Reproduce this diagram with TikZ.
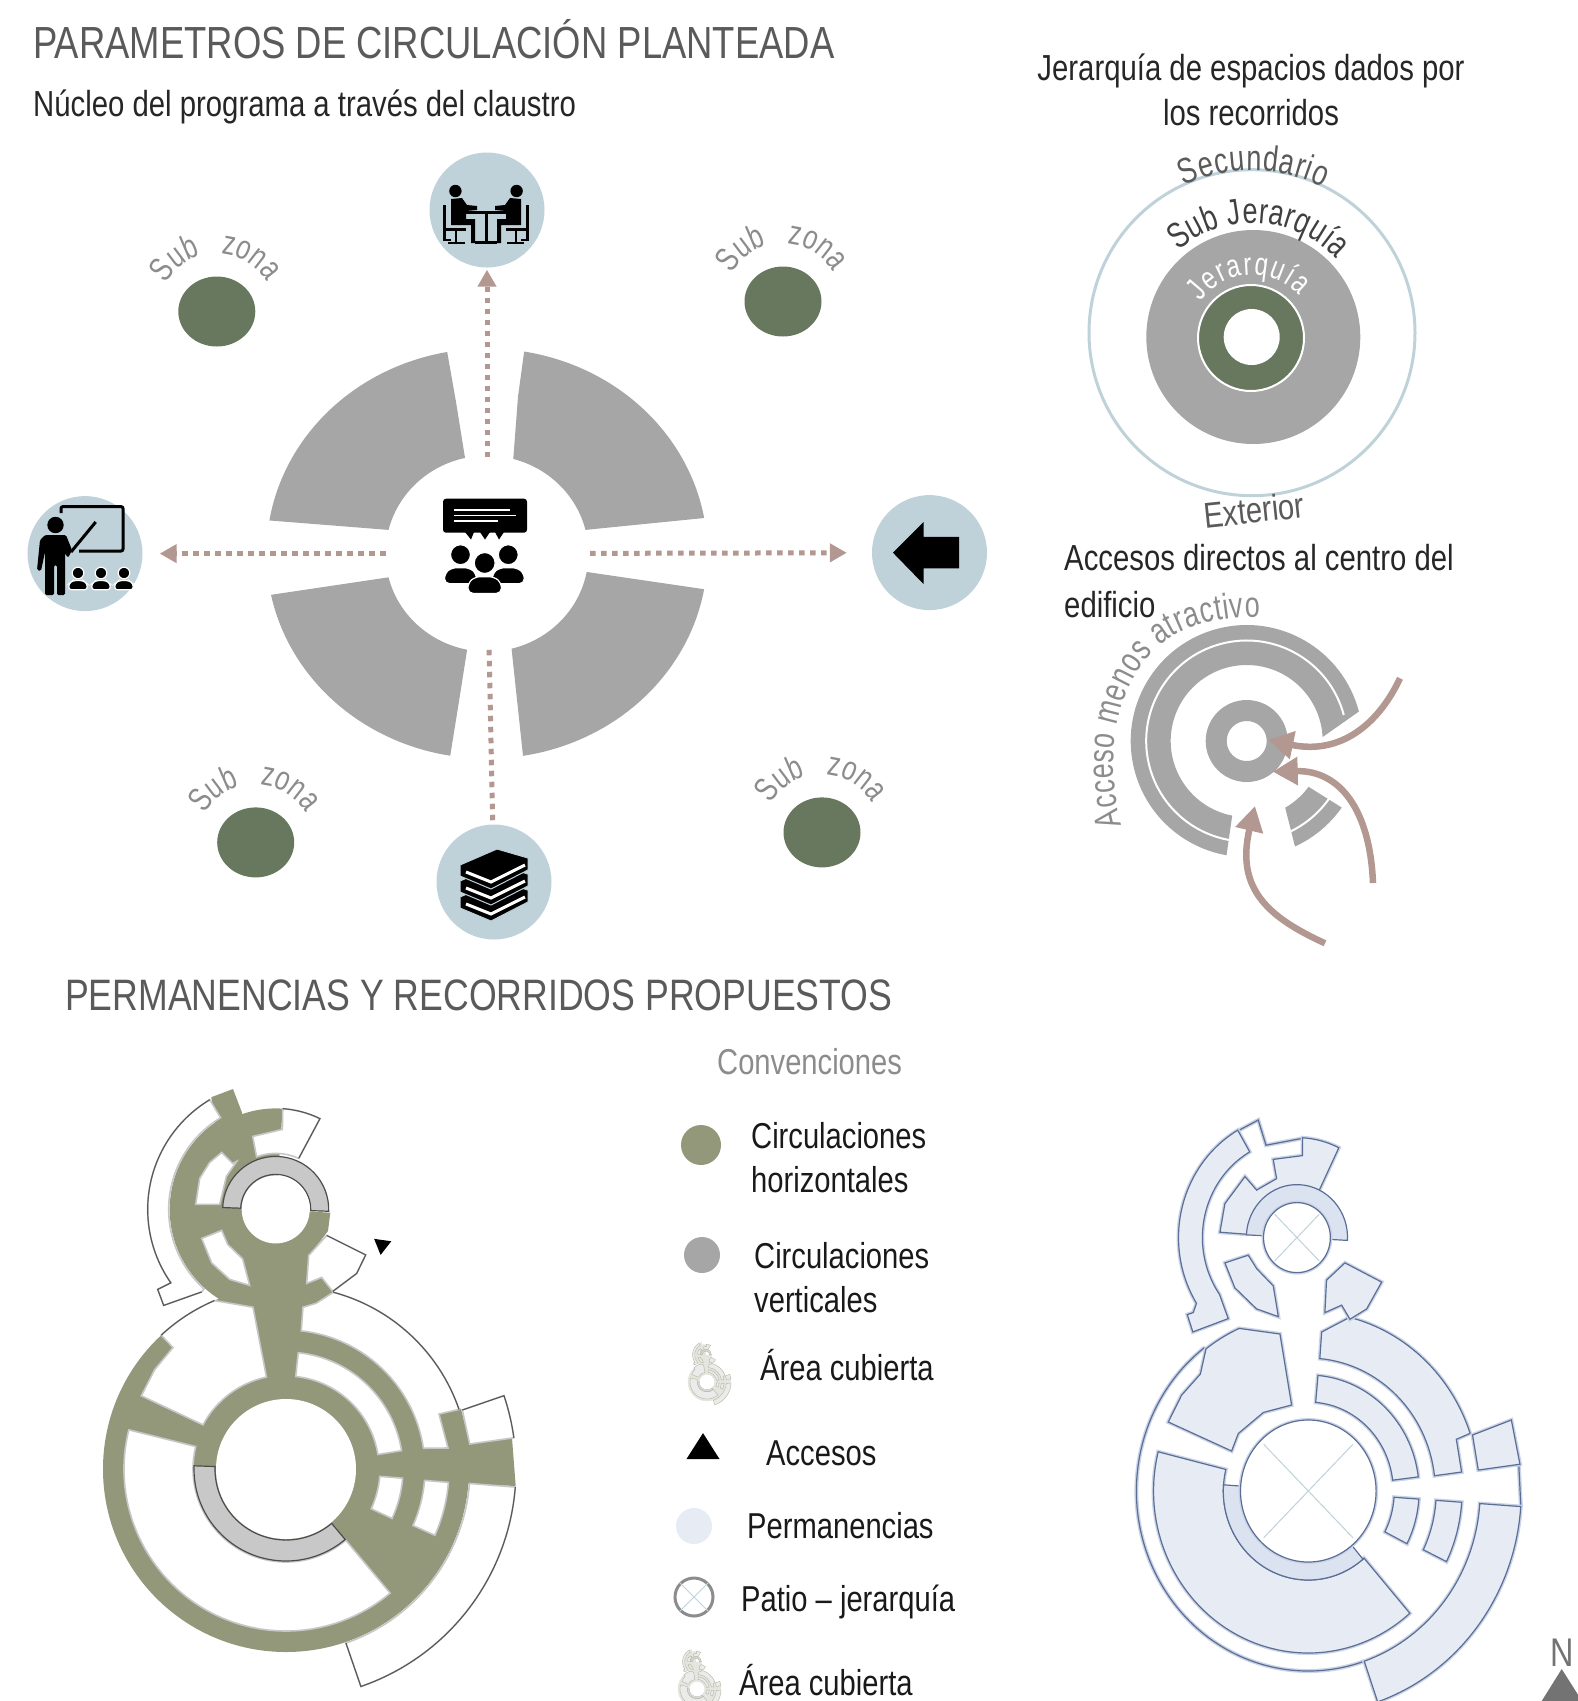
\documentclass[tikz,border=0pt]{standalone}
\usepackage{fontspec}
\setmainfont[FakeStretch=0.81]{Liberation Sans}
\newfontfamily\narrowFont[FakeStretch=0.75]{Liberation Sans}
\usepackage{xcolor}
\usetikzlibrary{shapes.geometric}
\usetikzlibrary{arrows.meta}
\usetikzlibrary{decorations.text}
\definecolor{titleGray}{HTML}{5A5A5A}
\definecolor{softGray}{HTML}{8C8C8C}
\definecolor{ringGray}{HTML}{A6A6A6}
\definecolor{zoneGreen}{HTML}{68785F}
\definecolor{iconBlue}{HTML}{BFD2DA}
\definecolor{roseLine}{HTML}{B39791}
\definecolor{olivePlan}{HTML}{93987A}
\definecolor{stairGray}{HTML}{C8C8C8}
\definecolor{roomBlue}{HTML}{E6EBF4}
\definecolor{stairBlue}{HTML}{DCE3F0}
\definecolor{wallBlue}{HTML}{5A6E96}
\definecolor{haloBlue}{HTML}{CBD4E6}
\tikzstyle{titleText} = [anchor=base west, inner sep=0pt, text=titleGray, font=\fontsize{45}{45}\selectfont]
\tikzstyle{leadText} = [anchor=base west, inner sep=0pt, text=black!85, font=\fontsize{36.2}{45}\selectfont]
\tikzstyle{legendText} = [anchor=base west, inner sep=0pt, text=black!90, font=\fontsize{36}{44}\selectfont, align=left]
\tikzstyle{iconNode} = [circle, minimum size=115pt, inner sep=0pt, fill=iconBlue]
\tikzstyle{zoneNode} = [ellipse, minimum width=77pt, minimum height=70pt, inner sep=0pt, fill=zoneGreen]
\tikzstyle{legendDot} = [circle, minimum size=36pt, inner sep=0pt]
\tikzstyle{flowLine} = [roseLine, line width=5pt, dash pattern=on 5.5pt off 5.5pt, >={Triangle[length=17pt,width=18pt]}]
\tikzstyle{entryLine} = [roseLine, line width=6.5pt, ->, >={Triangle[length=25pt,width=27pt]}]
\tikzstyle{leftRoom} = [draw=black!22, fill=white, line width=1.6pt]
\tikzstyle{leftStair} = [draw=black!70, fill=stairGray, line width=1.2pt]
\tikzstyle{rightRoom} = [draw=wallBlue, fill=roomBlue, line width=1.2pt, preaction={draw=haloBlue, line width=4pt}]
\tikzstyle{rightStair} = [draw=wallBlue, fill=stairBlue, line width=1.2pt]
\tikzstyle{rightWall} = [draw=wallBlue, line width=1.2pt, preaction={draw=haloBlue, line width=4pt}]
\tikzstyle{miniRoom} = [draw=olivePlan!70, fill=black!8, line width=.4pt]
\tikzstyle{miniStair} = [draw=olivePlan!70, fill=black!15, line width=.4pt]
\newcommand{\curveFont}[2]{\narrowFont\fontsize{#1}{#1}\selectfont\color{#2}}
\newcommand{\ringArc}[3]{arc [start angle=#2, end angle=#3, radius=#1pt]}
\newcommand{\ringPiece}[4]{(#3:#2) \ringArc{#2}{#3}{#4} -- (#4:#1) \ringArc{#1}{#4}{#3} -- cycle}
\newcommand{\bust}[3]{
    \filldraw [black, draw=white, line width=1.2pt] (#1,#2) circle [radius=#3pt];
    \filldraw [black, draw=white, line width=1.2pt, rounded corners=#3*.5pt] ({#1-1.6*#3},{#2-2.9*#3}) -- ({#1-1.6*#3},{#2-1.9*#3}) -- ({#1-.9*#3},{#2-1.3*#3}) -- ({#1+.9*#3},{#2-1.3*#3}) -- ({#1+1.6*#3},{#2-1.9*#3}) -- ({#1+1.6*#3},{#2-2.9*#3}) -- cycle;
}
\newcommand{\planBody}[1]{
    \fill [#1] (0,0) circle [radius=183pt];
    \fill [#1] (153,55) -- (175,60.4) -- (183.7,25) -- (226,31) -- (229.7,-17) -- (185,-15) -- (120,-15) -- (120,20) -- cycle;
    \fill [#1] (-74.7,371.8) -- (-53,380) -- (-43.7,355.7) -- (-50,340) -- (-70,340) -- cycle;
    \fill [#1] (-10.3,259.6) -- (44.3,256.3) -- (42,238) -- (23.7,214) -- (20.3,186) -- (35.3,192) -- (47,178) -- (30.3,165.8) -- (17,157.7) -- (10,137.6) -- (-30,137.6) -- cycle;
    \begin{scope}[shift={(-10.3,259.6)}]
        \fill [#1] (0,0) -- (86:101) \ringArc{101}{86}{121} -- (121:106) \ringArc{106}{121}{262} -- cycle;
    \end{scope}
}
\newcommand{\planRooms}[2]{
    \draw [#1] (133:183) \ringArc{183}{133}{113} -- (-33,161.8) -- (102:94) \ringArc{94}{102}{152} -- (-144.7,73.2) -- (-131.3,99.4) -- (-113,121.5) -- cycle;
    \draw [#1] (83.7:139) \ringArc{139}{83.7}{8.6} -- (162,21) -- (153,55) -- (19:183) \ringArc{183}{19}{75} -- (30.3,165.8) -- (17,161.8) -- cycle;
    \draw [#1] (176.3,59) -- (18.6:230) \ringArc{230}{18.6}{7.8} -- (183.7,25) -- cycle;
    \draw [#1] \ringPiece{93}{117}{84}{9};
    \draw [#1] \ringPiece{94}{117}{-4.5}{-25};
    \draw [#1] \ringPiece{139}{163}{-4.7}{-24};
    \draw [#1] \ringPiece{184}{230}{-4.5}{-71};
    \draw [#1] \ringPiece{93}{162}{166}{310};
    \draw [#2] \ringPiece{71}{92}{178}{310};
    \begin{scope}[shift={(-10.3,259.6)}]
        \draw [#1] (121:128) \ringArc{128}{121}{215} -- (-118,-80) -- (-112,-96) -- (-74,-82.5) -- (228:107) \ringArc{107}{228}{121} -- cycle;
        \draw [#1] (86:101) \ringArc{101}{86}{64} -- (65.7:56) \ringArc{56}{65.7}{110} -- (-23,73) -- (6.7,80) -- cycle;
        \draw [#1] (-54,57) -- (-43,46) -- (-39,48) -- (-49.3,33) -- (-56,5) -- (-80,5) -- (-76,31) -- (-66,47) -- cycle;
        \draw [#1] (-74,-29) -- (-54,-21) -- (-48,-35) -- (-33,-49.5) -- (-26,-76) -- (-46,-70) -- (-64,-53.5) -- cycle;
        \draw [#1] (51,-26) -- (90,-45.5) -- (81,-64) -- (57,-82) -- (46,-68) -- (31,-74) -- (33,-46) -- cycle;
        \draw [#2] \ringPiece{35}{53}{-2}{178};
    \end{scope}
}

\begin{document}
\begin{tikzpicture}[x=1pt, y=1pt]
    \useasboundingbox (0,0) rectangle (1578,-1701);
    \clip (0,0) rectangle (1578,-1701);

    \node (mainTitle) [titleText] at (33,-58) {PARAMETROS DE CIRCULACIÓN PLANTEADA};
    \node (mainLead) [leadText] at (33,-116) {Núcleo del programa a través del claustro};
    \node (hierarchyLead) [leadText, anchor=center, align=center] at (1251,-90) {Jerarquía de espacios dados por\\los recorridos};
    \node (accessLead) [leadText, anchor=west, align=left, font=\fontsize{36.2}{46.5}\selectfont] at (1064,-581) {Accesos directos al centro del\\edificio};
    \node (planTitle) [titleText, font=\fontsize{44}{44}\selectfont] at (65,-1010) {PERMANENCIAS Y RECORRIDOS PROPUESTOS};

    % claustro
    \begin{scope}[shift={(487,-553.6)}]
        \fill [ringGray] ({220.5*cos(100.4)},{205*sin(100.4)}) arc [start angle=100.4, end angle=170.7, x radius=220.5pt, y radius=205pt] -- ({101.5*cos(166)},{98*sin(166)}) arc [start angle=166, end angle=102.5, x radius=101.5pt, y radius=98pt] -- (-31,151.7) -- cycle;
        \fill [ringGray] ({220.5*cos(80.3)},{205*sin(80.3)}) arc [start angle=80.3, end angle=10, x radius=220.5pt, y radius=205pt] -- ({101.5*cos(14)},{98*sin(14)}) arc [start angle=14, end angle=75, x radius=101.5pt, y radius=98pt] -- (31,156.9) -- cycle;
        \fill [ringGray] ({220.5*cos(191.6)},{205*sin(191.6)}) arc [start angle=191.6, end angle=260.4, x radius=220.5pt, y radius=205pt] -- (-27.8,-146.4) -- ({101.5*cos(258.7)},{98*sin(258.7)}) arc [start angle=258.7, end angle=194, x radius=101.5pt, y radius=98pt] -- cycle;
        \fill [ringGray] ({220.5*cos(-10)},{205*sin(-10)}) arc [start angle=-10, end angle=-80.6, x radius=220.5pt, y radius=205pt] -- ({101.5*cos(-76)},{98*sin(-76)}) arc [start angle=-76, end angle=-10.8, x radius=101.5pt, y radius=98pt] -- cycle;
    \end{scope}

    \node (core) [circle, minimum size=192pt, inner sep=0pt] at (487,-553.6) {};
    \node (meetNode) [iconNode] at (487,-210) {};
    \node (classNode) [iconNode] at (85,-553.6) {};
    \node (doorNode) [iconNode] at (929.5,-552.6) {};
    \node (bookNode) [iconNode] at (494,-882) {};

    \draw [flowLine, ->, shorten >=2pt] (core) -- (meetNode);
    \draw [flowLine, ->, shorten >=17pt, shorten <=5pt] (core) -- (classNode);
    \draw [flowLine, ->, shorten >=25pt, shorten <=7pt] (core) -- (doorNode);
    \draw [flowLine] (core) -- (bookNode);

    \foreach \zoneName/\zoneX/\zoneY in {A/216.8/311.5, B/783/301.5, C/255.7/842.4, D/822/832.4} {
        \node (zone\zoneName) [zoneNode] at (\zoneX,-\zoneY) {};
        \path [shift={(\zoneX,-\zoneY)}, decorate, decoration={text along path, text align=fit to path stretching spaces, text={|\curveFont{34}{softGray}|Sub zona}}] (151:58) \ringArc{58}{151}{31};
    }

    % iconos
    \fill [black, rounded corners=3pt] (443,-498.7) rectangle (527,-532.7);
    \fill [black] (465,-532) -- (474,-532) -- (471,-539.5) -- cycle (480,-532) -- (490,-532) -- (485,-539.5) -- cycle (495,-532) -- (504,-532) -- (499,-539.5) -- cycle;
    \draw [white, line width=1.4pt] (454,-510) -- (510,-510) (454,-515.5) -- (516,-515.5) (454,-521) -- (498,-521);
    \bust{460.5}{-554.7}{10}
    \bust{508.3}{-554.7}{10}
    \bust{484.7}{-563}{10.5}

    \fill [black] (892.9,-552.6) -- (923.5,-522) -- (923.5,-536.9) -- (959.2,-536.9) -- (959.2,-568.3) -- (923.5,-568.3) -- (923.5,-584) -- cycle;

    \foreach \sideSign in {1,-1} {
        \begin{scope}[shift={(486,-210)}, xscale=\sideSign]
            \fill [black] (30.6,19) circle [radius=6.2pt];
            \fill [black] (35,11) -- (24,12) -- (19,5) -- (9,4) -- (9,0) -- (20,-1) -- (20,-9) -- (11,-9) -- (11,-33) -- (15,-33) -- (15,-15) -- (35,-15) -- cycle;
            \draw [black, line width=2.5pt] (41.5,5) -- (41.5,-30) -- (35,-30);
            \draw [black, line width=3pt] (20,-19) -- (40,-19);
            \draw [black, line width=2.5pt] (30,-19) -- (30,-33) (21,-33) -- (38,-33);
        \end{scope}
    }
    \draw [black, line width=3pt] (465.5,-212.6) -- (506.5,-212.6) (486,-212.6) -- (486,-242.5) (475,-242.5) -- (497,-242.5);

    \draw [black, line width=3pt, rounded corners=2pt] (61,-513) -- (61,-506.6) -- (123,-506.6) -- (123,-551) -- (79,-551);
    \fill [black] (55.5,-525) circle [radius=8.2pt];
    \fill [black, rounded corners=1.5pt] (45,-535) -- (66,-535) -- (72,-550) -- (68,-558) -- (65,-553) -- (65,-595) -- (57,-595) -- (57,-565) -- (54,-565) -- (54,-595) -- (45,-595) -- (45,-552) -- (41,-571) -- (37,-570) -- (40,-540) -- cycle;
    \draw [black, line width=3pt] (71,-552) -- (95.7,-522);
    \bust{78}{-573}{5.8}
    \bust{101}{-573}{5.8}
    \bust{124}{-573}{5.8}

    \foreach \stackY in {32,16,0} {
        \filldraw [black, draw=iconBlue, line width=1pt] (460,-865-\stackY) -- (497,-849-\stackY) -- (528,-858-\stackY) -- (528,-870-\stackY) -- (491,-889-\stackY) -- (460,-876-\stackY) -- cycle;
        \draw [white, line width=3pt] (466,-872-\stackY) -- (491,-882-\stackY) -- (525,-865-\stackY);
    }

    % jerarquia
    \node (outerCircle) [circle, minimum size=326pt, inner sep=0pt, draw=iconBlue, line width=3pt] at (1252,-332.7) {};
    \node (greyDisc) [circle, minimum size=214pt, inner sep=0pt, fill=ringGray] at (1253.3,-337) {};
    \node (greenRing) [circle, minimum size=106pt, inner sep=0pt, fill=zoneGreen, draw=white, line width=2pt] at (1251,-338) {};
    \node (whiteHole) [circle, minimum size=56pt, inner sep=0pt, fill=white] at (1251.7,-337) {};
    \path [shift={(1252,-332.7)}, decorate, decoration={text along path, text align=fit to path, text={|\curveFont{36}{titleGray}|Secundario}}] (115:162) \ringArc{162}{115}{64};
    \path [shift={(1253,-337)}, decorate, decoration={text along path, text align=fit to path, text={|\curveFont{36}{black!75}|Sub Jerarquía}}] (131:114) \ringArc{114}{131}{43};
    \path [shift={(1252,-338)}, decorate, decoration={text along path, text align=fit to path, text={|\curveFont{32}{white}|Jerarquía}}] (145:63) \ringArc{63}{145}{42};
    \node (exteriorText) [inner sep=0pt, text=titleGray, rotate=6, font=\fontsize{36}{36}\selectfont] at (1254,-510) {Exterior};

    % accesos
    \begin{scope}[shift={(1246.7,-741)}]
        \fill [ringGray] (14.7:116) \ringArc{116}{14.7}{260} -- (259:76) \ringArc{76}{259}{3} -- cycle;
        \fill [ringGray] (-65.4:116) \ringArc{116}{-65.4}{-35} -- (-36.5:77) \ringArc{77}{-36.5}{-60} -- cycle;
        \draw [white, line width=2pt] (15:100.5) \ringArc{100.5}{15}{261};
        \draw [white, line width=2pt] (-66:100.5) \ringArc{100.5}{-66}{-34};
    \end{scope}
    \node (hubRing) [circle, minimum size=61pt, inner sep=0pt, draw=ringGray, line width=21pt, fill=white] at (1246.7,-741) {};
    \path [decorate, decoration={text along path, text align=fit to path, text={|\curveFont{36}{softGray}|Acceso menos atractivo}}] (1121.7,-825) .. controls (1106,-770) and (1110,-690) .. (1160,-645) .. controls (1185,-624) and (1225,-617) .. (1260,-617);

    \coordinate (entryOneStart) at (1400,-678.3);
    \coordinate (entryOneEnd) at (1268.3,-740);
    \coordinate (entryTwoStart) at (1373,-883);
    \coordinate (entryTwoEnd) at (1272.7,-771.7);
    \coordinate (entryThreeStart) at (1325,-943.3);
    \coordinate (entryThreeEnd) at (1255,-806);
    \draw [entryLine] (entryOneStart) .. controls (1378,-725) and (1340,-755) .. (entryOneEnd);
    \draw [entryLine] (entryTwoStart) .. controls (1370,-810) and (1340,-770) .. (entryTwoEnd);
    \draw [entryLine] (entryThreeStart) .. controls (1270,-918) and (1235,-890) .. (entryThreeEnd);

    % planta izquierda
    \begin{scope}[shift={(286,-1469)}]
        \planBody{olivePlan}
        \planRooms{leftRoom}{leftStair}
        \draw [black!65, line width=1.2pt] (133:183) \ringArc{183}{133}{113} (75:183) \ringArc{183}{75}{19} (176.3,59) -- (18.6:230) \ringArc{230}{18.6}{7.8} (-4.5:230) \ringArc{230}{-4.5}{-71} -- (-71:184);
        \begin{scope}[shift={(-10.3,259.6)}]
            \draw [black!65, line width=1.2pt] (-74,-82.5) -- (-112,-96) -- (-118,-80) -- (215:128) \ringArc{128}{215}{121} (86:101) \ringArc{101}{86}{64} -- (65.7:56) (51,-26) -- (90,-45.5) -- (81,-64) -- (57,-82);
            \fill [white] (0,0) circle [radius=34pt];
        \end{scope}
        \fill [white] (0,0) circle [radius=70pt];
    \end{scope}
    \node (accessMark) [isosceles triangle, isosceles triangle apex angle=60, fill=black, minimum size=15pt, inner sep=0pt, rotate=-98] at (382,-1245) {};

    % planta derecha
    \begin{scope}[shift={(1308.3,-1491)}, xscale=.955]
        \draw [rightWall] (127:180) \ringArc{180}{127}{288.5};
        \draw [rightWall] (-3.7:223) -- (7:222);
        \draw [rightRoom] (127:178) \ringArc{178}{127}{114} -- (-29.7,157) -- (-17.5,86) -- (-47,78.6) -- (-73.3,57.5) -- (-80.3,40) -- (-146.6,69) -- (-132.7,95.8) -- (-113,117) -- cycle;
        \draw [rightRoom] (84.8:133) \ringArc{133}{84.8}{6.6} -- (160.5,19) -- (155,51.7) -- (18.8:179) \ringArc{179}{18.8}{76} -- (14,159) -- cycle;
        \draw [rightRoom] (172,56) -- (212.6,71) -- (221.6,26.8) -- (178,21) -- cycle;
        \draw [rightRoom] \ringPiece{89}{116}{85}{7};
        \draw [rightRoom] \ringPiece{90}{116}{-4}{-27};
        \draw [rightRoom] \ringPiece{134}{161}{-4}{-26};
        \draw [rightRoom] \ringPiece{180}{223}{-4}{-71};
        \draw [rightRoom] \ringPiece{89}{162}{166}{311};
        \draw [rightStair] \ringPiece{71}{89}{176}{310};
        \draw [rightWall, fill=white] (0,0) circle [radius=71pt];
        \draw [iconBlue, line width=1pt] (45:66) -- (225:66) (135:66) -- (-45:66);
        \begin{scope}[shift={(-11.9,253.4)}]
            \draw [rightWall] (-61.4,107) -- (-40.5,117.6) -- (-32.4,92.4) -- (5.9,99.3);
            \draw [rightRoom] (120:124) \ringArc{124}{120}{212} -- (-108.6,-75) -- (-114.8,-77) -- (-109,-94.3) -- (-72,-81) -- (215:99) \ringArc{99}{215}{120} -- cycle;
            \draw [rightRoom] (86.6:100) \ringArc{100}{86.6}{64} -- (24,48.7) -- (-52.7,3.4) -- (-80.6,5.4) -- (-75.4,34) -- (-54.4,61) -- (-42.2,47.5) -- (-21.3,59) -- (-24.8,78.2) -- (5.9,82) -- cycle;
            \draw [rightRoom] (-75.4,-25.3) -- (-51,-17.6) -- (-42.2,-31) -- (-24.8,-48.3) -- (-19.5,-79) -- (-42.2,-71.3) -- (-65,-50.2) -- cycle;
            \draw [rightRoom] (50.3,-25.3) -- (88.7,-44.5) -- (73,-71.3) -- (55.5,-81.6) -- (46.8,-67.5) -- (29.3,-75) -- (31,-42.5) -- cycle;
            \draw [rightStair] \ringPiece{35}{53}{-3}{177};
            \draw [rightWall, fill=white] (0,0) circle [radius=35pt];
            \draw [iconBlue, line width=1pt] (45:33) -- (225:33) (135:33) -- (-45:33);
        \end{scope}
    \end{scope}
    \node (northText) [inner sep=0pt, text=black!55, font=\fontsize{40}{40}\selectfont] at (1561.7,-1653) {N};
    \fill [black!55] (1561.7,-1669) -- (1582,-1701) -- (1541.7,-1701) -- cycle;

    % convenciones
    \node (legendTitle) [anchor=base west, inner sep=0pt, text=softGray, font=\fontsize{36}{36}\selectfont] at (717,-1074) {Convenciones};
    \node (legendOlive) [legendDot, minimum size=40pt, fill=olivePlan] at (701,-1145) {};
    \node (legendOliveText) [legendText, anchor=west] at (751,-1158) {Circulaciones\\horizontales};
    \node (legendGray) [legendDot, fill=ringGray] at (702,-1255) {};
    \node (legendGrayText) [legendText, anchor=west] at (754,-1278) {Circulaciones\\verticales};
    \begin{scope}[shift={(707,-1382)}, scale=.105]
        \planBody{olivePlan!25}
        \planRooms{miniRoom}{miniStair}
        \fill [white] (0,0) circle [radius=70pt];
    \end{scope}
    \node (legendCoverText) [legendText] at (760,-1380) {Área cubierta};
    \node (legendAccess) [isosceles triangle, isosceles triangle apex angle=65, fill=black, minimum size=26pt, inner sep=0pt, rotate=90] at (703,-1450) {};
    \node (legendAccessText) [legendText] at (766,-1465) {Accesos};
    \node (legendRoom) [legendDot, fill=roomBlue] at (694,-1526) {};
    \node (legendRoomText) [legendText] at (747,-1538) {Permanencias};
    \node (legendPatio) [legendDot, minimum size=38pt, draw=softGray, line width=3pt, fill=white] at (694,-1597) {};
    \draw [iconBlue, line width=1pt] (legendPatio.45) -- (legendPatio.225);
    \draw [iconBlue, line width=1pt] (legendPatio.135) -- (legendPatio.-45);
    \node (legendPatioText) [legendText] at (741,-1611) {Patio – jerarquía};
    \begin{scope}[shift={(697,-1689)}, scale=.105]
        \planBody{olivePlan!25}
        \planRooms{miniRoom}{miniStair}
        \fill [white] (0,0) circle [radius=70pt];
    \end{scope}
    \node (legendCoverTwoText) [legendText] at (739,-1695) {Área cubierta};
\end{tikzpicture}
\end{document}
